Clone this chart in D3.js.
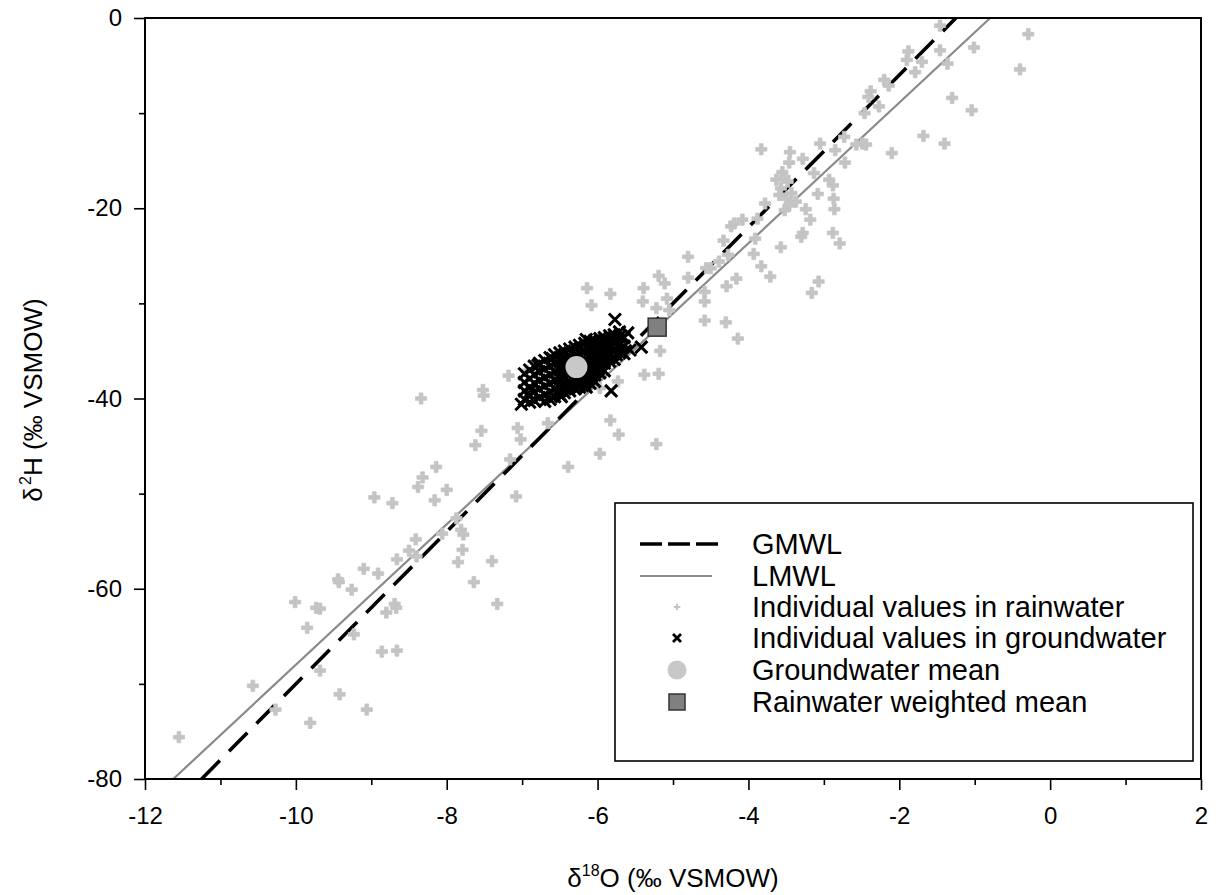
<!DOCTYPE html>
<html><head><meta charset="utf-8">
<script src="https://cdn.jsdelivr.net/npm/d3@7"></script>
<style>body{margin:0;background:#fff}svg text{font-family:"Liberation Sans",Arial,sans-serif}</style></head>
<body><svg id="c" width="1219" height="895"></svg>
<script>
// ---- data ----
const xTicks = [-12,-10,-8,-6,-4,-2,0,2];
const xMinor = [-11,-9,-7,-5,-3,-1,1];
const yTicks = [0,-20,-40,-60,-80];
const yMinor = [-10,-30,-50,-70];
const gmwlO = [-11.25,-1.25], gmwlH = [-80,0];
const lmwlO = [-11.625,-0.795], lmwlH = [-80,0];
const gwMean = [-6.28,-36.7];
const rainMean = [-5.21,-32.5];
const rainwater = [
[-11.55,-75.6],[-10.57,-70.2],[-10.27,-72.7],[-9.81,-74.1],[-9.42,-71.1],[-9.06,-72.7],[-8.86,-66.6],[-8.66,-66.5],
[-9.68,-68.6],[-9.85,-64.1],[-10.01,-61.4],[-9.73,-62.0],[-9.68,-62.1],[-9.44,-59.0],[-9.43,-59.3],[-9.26,-60.1],
[-9.23,-64.8],[-9.10,-57.9],[-8.91,-58.4],[-8.80,-62.5],[-8.69,-61.6],[-8.67,-62.0],[-8.66,-56.9],[-8.50,-56.0],
[-8.41,-54.8],[-8.40,-56.6],[-8.96,-50.4],[-8.72,-51.0],[-8.38,-49.3],[-8.16,-50.7],[-8.00,-49.6],[-7.87,-52.6],
[-8.06,-54.2],[-7.81,-53.8],[-7.78,-54.3],[-7.79,-55.9],[-7.85,-57.2],[-7.64,-59.3],[-7.40,-57.1],[-7.33,-61.6],
[-8.34,-40.0],[-8.14,-47.2],[-8.32,-48.3],[-7.52,-39.1],[-7.51,-39.7],[-7.18,-37.6],[-6.94,-37.1],[-6.14,-28.4],
[-5.83,-29.0],[-6.08,-30.2],[-7.54,-43.4],[-7.62,-44.9],[-7.06,-43.1],[-7.02,-44.3],[-7.16,-46.4],[-6.66,-42.6],
[-6.39,-47.2],[-5.97,-45.8],[-5.83,-42.3],[-5.72,-43.8],[-5.22,-44.8],[-5.38,-37.5],[-5.19,-37.4],[-5.17,-35.0],
[-5.73,-38.2],[-5.97,-38.9],[-5.39,-28.4],[-5.40,-29.8],[-5.19,-27.1],[-5.11,-27.9],[-5.08,-29.5],[-5.22,-30.5],
[-5.05,-30.7],[-4.80,-25.1],[-4.80,-27.3],[-4.58,-28.8],[-4.58,-29.8],[-4.58,-31.8],[-4.29,-28.2],[-4.16,-27.4],
[-4.30,-32.0],[-4.14,-33.7],[-4.27,-24.9],[-4.56,-26.3],[-4.50,-26.3],[-4.39,-25.6],[-4.33,-23.4],[-4.23,-21.9],
[-4.19,-21.6],[-3.83,-13.8],[-3.45,-14.1],[-3.46,-15.2],[-3.28,-14.8],[-3.05,-13.2],[-2.73,-12.5],[-2.85,-13.9],
[-2.72,-15.2],[-2.57,-13.3],[-2.49,-13.2],[-2.44,-13.3],[-2.10,-14.2],[-1.68,-12.4],[-1.40,-13.2],[-3.55,-16.2],
[-3.63,-17.0],[-3.52,-16.7],[-3.48,-17.2],[-3.57,-17.9],[-3.59,-18.6],[-3.50,-19.0],[-3.43,-18.4],[-3.37,-19.3],
[-3.46,-19.7],[-3.52,-20.2],[-3.13,-16.3],[-2.93,-17.0],[-2.88,-17.6],[-3.08,-18.5],[-2.87,-19.0],[-2.86,-20.1],
[-3.24,-20.1],[-3.18,-21.2],[-3.78,-19.5],[-3.88,-21.1],[-4.08,-21.2],[-3.91,-23.2],[-3.57,-24.1],[-3.28,-22.6],
[-3.30,-23.0],[-2.88,-22.6],[-2.79,-23.7],[-3.93,-24.8],[-3.83,-26.1],[-3.71,-27.2],[-3.07,-27.7],[-3.16,-28.9],
[-1.46,-0.8],[-1.88,-3.5],[-1.90,-4.4],[-1.46,-3.4],[-1.70,-4.6],[-1.79,-5.7],[-1.01,-3.1],[-0.29,-1.7],
[-0.40,-5.4],[-1.36,-4.8],[-2.20,-6.5],[-2.14,-7.1],[-2.38,-7.7],[-2.41,-8.3],[-2.27,-9.3],[-1.30,-8.4],
[-1.04,-9.7],[-2.46,-10.0],[-7.08,-50.3]
];
const groundwater = [
[-6.97,-37.4],[-6.97,-38.3],[-6.97,-39.2],[-6.97,-40.1],[-7.01,-40.6],
[-6.84,-36.6],[-6.84,-37.5],[-6.84,-38.4],[-6.84,-39.3],[-6.84,-40.2],
[-6.70,-36.0],[-6.70,-36.9],[-6.70,-37.8],[-6.70,-38.7],[-6.70,-39.6],[-6.70,-40.3],
[-6.57,-35.4],[-6.57,-36.3],[-6.57,-37.2],[-6.57,-38.1],[-6.57,-39.0],[-6.57,-39.8],
[-6.44,-35.0],[-6.44,-35.9],[-6.44,-36.8],[-6.44,-37.7],[-6.44,-38.6],[-6.44,-39.4],
[-6.30,-34.6],[-6.30,-35.5],[-6.30,-36.4],[-6.30,-37.3],[-6.30,-38.2],[-6.30,-39.0],
[-6.17,-34.2],[-6.17,-35.1],[-6.17,-36.0],[-6.17,-36.9],[-6.17,-37.8],[-6.17,-38.6],
[-6.04,-33.9],[-6.04,-34.8],[-6.04,-35.7],[-6.04,-36.6],[-6.04,-37.5],[-6.04,-38.2],
[-5.91,-33.6],[-5.91,-34.5],[-5.91,-35.4],[-5.91,-36.3],[-5.91,-37.1],
[-5.78,-33.3],[-5.78,-34.2],[-5.78,-35.1],[-5.78,-35.9],
[-5.65,-33.6],[-5.65,-34.5],[-5.65,-35.3],
[-6.90,-37.0],[-6.90,-37.9],[-6.90,-38.8],[-6.90,-39.7],[-6.90,-40.4],
[-6.77,-36.3],[-6.77,-37.2],[-6.77,-38.1],[-6.77,-39.0],[-6.77,-39.9],
[-6.63,-35.7],[-6.63,-36.6],[-6.63,-37.5],[-6.63,-38.4],[-6.63,-39.3],[-6.63,-40.1],
[-6.50,-35.2],[-6.50,-36.1],[-6.50,-37.0],[-6.50,-37.9],[-6.50,-38.8],[-6.50,-39.6],
[-6.37,-34.8],[-6.37,-35.7],[-6.37,-36.6],[-6.37,-37.5],[-6.37,-38.4],[-6.37,-39.2],
[-6.24,-34.4],[-6.24,-35.3],[-6.24,-36.2],[-6.24,-37.1],[-6.24,-38.0],[-6.24,-38.8],
[-6.10,-34.0],[-6.10,-34.9],[-6.10,-35.8],[-6.10,-36.7],[-6.10,-37.6],[-6.10,-38.4],
[-5.97,-33.7],[-5.97,-34.6],[-5.97,-35.5],[-5.97,-36.4],[-5.97,-37.3],
[-5.84,-33.4],[-5.84,-34.3],[-5.84,-35.2],[-5.84,-36.1],
[-5.71,-33.5],[-5.71,-34.4],[-5.71,-35.2],
[-5.77,-31.7],[-5.71,-33.0],[-5.60,-33.1],[-5.42,-34.6],[-5.57,-34.9],[-5.82,-39.2],[-6.15,-33.8],
[-6.79,-36.5],[-6.60,-35.8],[-6.48,-39.8],[-6.88,-39.1],[-6.15,-38.8],[-5.75,-35.4]
];
const legendLabels = ["GMWL","LMWL","Individual values in rainwater","Individual values in groundwater","Groundwater mean","Rainwater weighted mean"];

// ---- drawing ----
const svg = d3.select("#c");
const x = d3.scaleLinear().domain([-12,2]).range([145,1201]);
const y = d3.scaleLinear().domain([-80,0]).range([779,18]);
const F = '"Liberation Sans",Arial,sans-serif';

svg.append("rect").attr("width",1219).attr("height",895).attr("fill","#fff");

// lines
const line = d3.line().x(d=>x(d[0])).y(d=>y(d[1]));
svg.append("path").datum(lmwlO.map((o,i)=>[o,lmwlH[i]])).attr("d",line)
  .attr("stroke","#8a8a8a").attr("stroke-width",2.2).attr("fill","none");
svg.append("path").datum(gmwlO.map((o,i)=>[o,gmwlH[i]])).attr("d",line)
  .attr("stroke","#000").attr("stroke-width",3.6).attr("fill","none")
  .attr("stroke-dasharray","26,13");

// rain pluses
const plus = d3.symbol().type(d3.symbolCross).size(70);
svg.append("g").selectAll("path").data(rainwater).join("path")
  .attr("d",plus).attr("transform",d=>`translate(${x(d[0])},${y(d[1])})`)
  .attr("fill","#c4c4c4").attr("stroke","#c4c4c4").attr("stroke-width",0.8).attr("stroke-linejoin","round");

// groundwater x
function xMark(s){return `M${-s},${-s}L${s},${s}M${-s},${s}L${s},${-s}`;}
svg.append("g").selectAll("path").data(groundwater).join("path")
  .attr("d",xMark(6)).attr("transform",d=>`translate(${x(d[0])},${y(d[1])})`)
  .attr("stroke","#000").attr("stroke-width",3).attr("fill","none");

// means
svg.append("circle").attr("cx",x(gwMean[0])).attr("cy",y(gwMean[1])).attr("r",11).attr("fill","#c8c8c8");
svg.append("rect").attr("x",x(rainMean[0])-9).attr("y",y(rainMean[1])-9).attr("width",18).attr("height",18)
  .attr("fill","#808080").attr("stroke","#333").attr("stroke-width",1.5);

// frame
svg.append("rect").attr("x",145).attr("y",18).attr("width",1056).attr("height",761)
  .attr("fill","none").attr("stroke","#000").attr("stroke-width",2);

// axes
function styleAxis(g){g.select(".domain").remove();g.selectAll("line").attr("stroke","#000").attr("stroke-width",1.6);
  g.selectAll("text").attr("font-family",F).attr("font-size",24).attr("fill","#000");}
svg.append("g").attr("transform","translate(0,779)")
  .call(d3.axisBottom(x).tickValues(xTicks).tickSize(11).tickPadding(17).tickFormat(d=>d<0?"-"+Math.abs(d):d)).call(styleAxis);
svg.append("g").attr("transform","translate(0,779)")
  .call(d3.axisBottom(x).tickValues(xMinor).tickSize(6).tickFormat("")).call(styleAxis);
svg.append("g").attr("transform","translate(145,0)")
  .call(d3.axisLeft(y).tickValues(yTicks).tickSize(11).tickPadding(12).tickFormat(d=>d<0?"-"+Math.abs(d):d)).call(styleAxis);
svg.append("g").attr("transform","translate(145,0)")
  .call(d3.axisLeft(y).tickValues(yMinor).tickSize(6).tickFormat("")).call(styleAxis);

// axis titles
const xt = svg.append("text").attr("x",673).attr("y",887).attr("text-anchor","middle").attr("font-size",26).attr("font-family",F);
xt.append("tspan").text("δ");
xt.append("tspan").text("18").attr("font-size",16).attr("dy",-11);
xt.append("tspan").text("O (‰ VSMOW)").attr("dy",11);
const yt = svg.append("text").attr("transform","translate(42,400) rotate(-90)").attr("text-anchor","middle").attr("font-size",26).attr("font-family",F);
yt.append("tspan").text("δ ");
yt.append("tspan").text("2").attr("font-size",16).attr("dy",-11).attr("dx",-5);
yt.append("tspan").text("H (‰ VSMOW)").attr("dy",11);

// legend
const lg = svg.append("g");
lg.append("rect").attr("x",615).attr("y",503).attr("width",578).attr("height",258)
  .attr("fill","#fff").attr("stroke","#000").attr("stroke-width",1.6);
const rowY = [544,576,607,638,670,702];
lg.append("line").attr("x1",640).attr("x2",718).attr("y1",rowY[0]).attr("y2",rowY[0])
  .attr("stroke","#000").attr("stroke-width",3.6).attr("stroke-dasharray","22,6");
lg.append("line").attr("x1",640).attr("x2",712).attr("y1",rowY[1]).attr("y2",rowY[1])
  .attr("stroke","#8a8a8a").attr("stroke-width",2.2);
lg.append("path").attr("d",d3.symbol().type(d3.symbolCross).size(24)).attr("transform",`translate(677,${rowY[2]})`).attr("fill","#c4c4c4");
lg.append("path").attr("d",xMark(4)).attr("transform",`translate(677,${rowY[3]})`).attr("stroke","#000").attr("stroke-width",2.8);
lg.append("circle").attr("cx",677).attr("cy",rowY[4]).attr("r",9.5).attr("fill","#c8c8c8");
lg.append("rect").attr("x",677-8).attr("y",rowY[5]-8).attr("width",16).attr("height",16).attr("fill","#808080").attr("stroke","#333").attr("stroke-width",1.5);
lg.selectAll("text.l").data(legendLabels).join("text").attr("class","l")
  .attr("x",752).attr("y",(d,i)=>rowY[i]).attr("dy","0.35em").attr("font-size",29).attr("font-family",F).text(d=>d);
</script></body></html>
